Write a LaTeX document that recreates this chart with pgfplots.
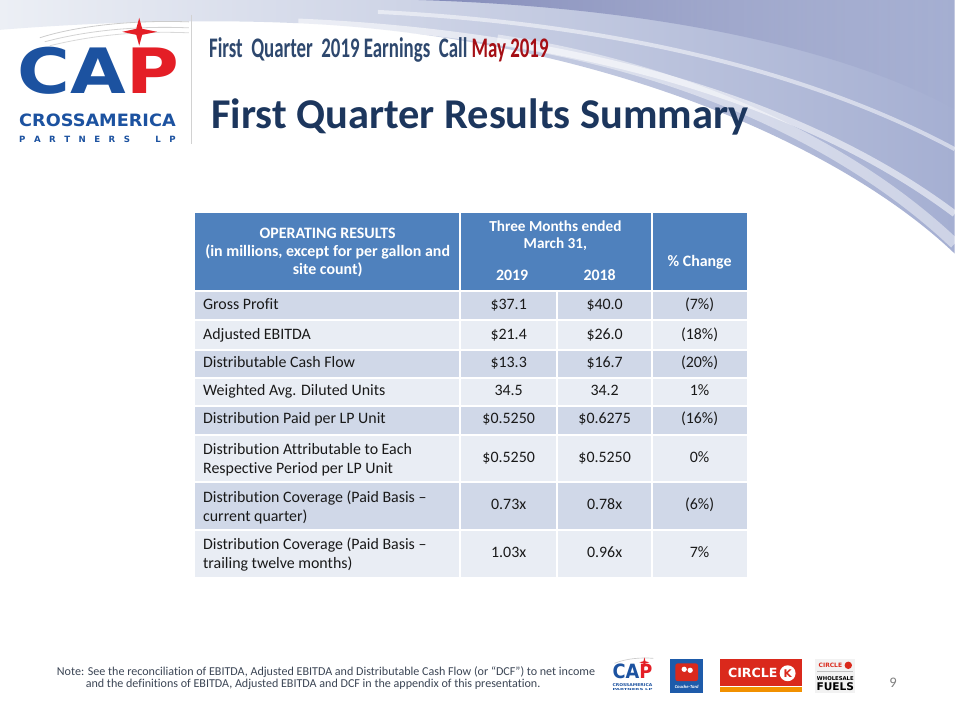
\documentclass[border=0pt]{standalone}
\usepackage{pgfplots}
\pgfplotsset{compat=1.18}
\usepackage{fontspec}
\setmainfont{Carlito}[Ligatures={TeX,NoCommon}]
\newfontfamily\logofont{DejaVu Sans}
\usetikzlibrary{fadings}
\definecolor{capblue}{RGB}{28,82,160}
\definecolor{capred}{RGB}{228,30,38}
\definecolor{titleblue}{RGB}{28,54,93}
\definecolor{subblue}{RGB}{46,72,110}
\definecolor{subred}{RGB}{165,15,21}
\definecolor{hdrblue}{RGB}{79,129,189}
\definecolor{rowdark}{RGB}{208,216,232}
\definecolor{rowlight}{RGB}{233,237,244}
\definecolor{bodytxt}{RGB}{25,25,25}
\definecolor{notetxt}{RGB}{60,70,85}
\definecolor{bgA}{RGB}{236,239,245}
\definecolor{bgB}{RGB}{165,175,210}
\definecolor{bgC}{RGB}{130,138,185}
\definecolor{ctblue}{RGB}{30,91,170}
\definecolor{ckred}{RGB}{218,41,28}
\definecolor{ckorange}{RGB}{242,145,0}
\newcommand\fs[2]{\fontsize{#1}{#2}\selectfont}
\begin{document}
\begin{tikzpicture}
\begin{axis}[hide axis, scale only axis, width=720pt, height=540pt,
  xmin=0, xmax=960, ymin=0, ymax=720, y dir=reverse, clip=false]
% background
\fill[white] (0,0) rectangle (960,720);
\shade[left color=bgA, right color=bgB] (0,0) -- (960,0) -- (960,255) .. controls (850,150) and (620,45) .. (330,25) .. controls (220,18) and (100,22) .. (0,30) -- cycle;
\fill[bgC, path fading=east] (420,0) -- (960,0) -- (960,110) .. controls (860,55) and (680,8) .. (420,0) -- cycle;
\draw[white, line width=5pt, opacity=0.55] (300,22) .. controls (600,35) and (820,110) .. (960,215);
\draw[white, line width=3pt, opacity=0.5] (380,12) .. controls (640,25) and (830,80) .. (960,150);
\draw[white, line width=8pt, opacity=0.45] (500,40) .. controls (700,70) and (860,150) .. (960,245);
\draw[gray!40, line width=0.6pt] (40,38) .. controls (80,25) and (140,20) .. (190,22);
\draw[gray!35, line width=0.6pt] (45,42) .. controls (90,30) and (140,26) .. (190,28);
\draw[gray!30, line width=0.6pt] (50,46) .. controls (95,35) and (140,31) .. (190,33);
% separator
\draw[gray!35, line width=0.8pt] (193,15) -- (193,145);
% logo
\node[inner sep=0] at (99,71.5) {\resizebox{121.5pt}{35pt}{\logofont\bfseries\color{capblue}CA\color{capred}P}};
\fill[capred] (140,18) -- (143,29) -- (158,32) -- (143,35) -- (140,46) -- (137,35) -- (123,32) -- (137,29) -- cycle;
\node[inner sep=0] at (98,121) {\resizebox{118pt}{9.5pt}{\logofont\bfseries\color{capblue}CROSSAMERICA}};
\node[inner sep=0] at (98,140) {\logofont\bfseries\fs{6.5}{7}\color{capblue}\makebox[118pt][s]{P\hfill A\hfill R\hfill T\hfill N\hfill E\hfill R\hfill S\hfill\hfill\hfill L\hfill P}};
% headings
\node[inner sep=0, anchor=base west] at (210,58) {\resizebox{256pt}{15pt}{\bfseries\color{subblue}First\ \ Quarter\ \ 2019 Earnings\ \ Call \color{subred}May 2019}};
\node[inner sep=0, anchor=base west] at (212,129) {\fs{32}{34}\bfseries\color{titleblue}First Quarter Results Summary};
% table fills
\fill[hdrblue] (196,214) rectangle (751,293);
\fill[rowdark] (196,293) rectangle (751,322);
\fill[rowlight] (196,322) rectangle (751,352);
\fill[rowdark] (196,352) rectangle (751,380);
\fill[rowlight] (196,380) rectangle (751,408);
\fill[rowdark] (196,408) rectangle (751,437);
\fill[rowlight] (196,437) rectangle (751,485);
\fill[rowdark] (196,485) rectangle (751,533);
\fill[rowlight] (196,533) rectangle (751,580);
% grid lines
\draw[white, line width=1.5pt] (196,293) -- (751,293);
\draw[white, line width=1.5pt] (196,322) -- (751,322);
\draw[white, line width=1.5pt] (196,352) -- (751,352);
\draw[white, line width=1.5pt] (196,380) -- (751,380);
\draw[white, line width=1.5pt] (196,408) -- (751,408);
\draw[white, line width=1.5pt] (196,437) -- (751,437);
\draw[white, line width=1.5pt] (196,485) -- (751,485);
\draw[white, line width=1.5pt] (196,533) -- (751,533);
\draw[white, line width=1.5pt] (463,214) -- (463,580);
\draw[white, line width=1.5pt] (656,214) -- (656,580);
\draw[white, line width=1.5pt] (560,293) -- (560,580);
% header text
\node[align=center, text=white, font=\fs{12}{13.5}\bfseries, inner sep=0] at (329.5,253.5) {OPERATING RESULTS\\(in millions, except for per gallon and\\site count)};
\node[align=center, text=white, font=\fs{11.5}{13.5}\bfseries, inner sep=0] at (558.5,237) {Three Months ended\\March 31,};
\node[text=white, font=\fs{12}{12}\bfseries, inner sep=0, anchor=mid] at (515,279) {2019};
\node[text=white, font=\fs{12}{12}\bfseries, inner sep=0, anchor=mid] at (603,279) {2018};
\node[text=white, font=\fs{12}{12}\bfseries, inner sep=0, anchor=mid] at (703.5,265) {\% Change};
% body
\begin{scope}[every node/.style={inner sep=0, text=bodytxt, font=\fs{12}{14.25}}]
\node[anchor=mid west] at (204,308) {Gross Profit};
\node[anchor=mid] at (511.5,308) {\$37.1};
\node[anchor=mid] at (608,308) {\$40.0};
\node[anchor=mid] at (703.5,308) {(7\%)};
\node[anchor=mid west] at (204,338) {Adjusted EBITDA};
\node[anchor=mid] at (511.5,338) {\$21.4};
\node[anchor=mid] at (608,338) {\$26.0};
\node[anchor=mid] at (703.5,338) {(18\%)};
\node[anchor=mid west] at (204,366) {Distributable Cash Flow};
\node[anchor=mid] at (511.5,366) {\$13.3};
\node[anchor=mid] at (608,366) {\$16.7};
\node[anchor=mid] at (703.5,366) {(20\%)};
\node[anchor=mid west] at (204,394.5) {Weighted Avg. Diluted Units};
\node[anchor=mid] at (511.5,394.5) {34.5};
\node[anchor=mid] at (608,394.5) {34.2};
\node[anchor=mid] at (703.5,394.5) {1\%};
\node[anchor=mid west] at (204,423) {Distribution Paid per LP Unit};
\node[anchor=mid] at (511.5,423) {\$0.5250};
\node[anchor=mid] at (608,423) {\$0.6275};
\node[anchor=mid] at (703.5,423) {(16\%)};
\node[anchor=west, align=left] at (204,462.5) {Distribution Attributable to Each\\Respective Period per LP Unit};
\node[anchor=mid] at (511.5,461.5) {\$0.5250};
\node[anchor=mid] at (608,461.5) {\$0.5250};
\node[anchor=mid] at (703.5,461.5) {0\%};
\node[anchor=west, align=left] at (204,510) {Distribution Coverage (Paid Basis --\\current quarter)};
\node[anchor=mid] at (511.5,509.5) {0.73x};
\node[anchor=mid] at (608,509.5) {0.78x};
\node[anchor=mid] at (703.5,509.5) {(6\%)};
\node[anchor=west, align=left] at (204,558) {Distribution Coverage (Paid Basis --\\trailing twelve months)};
\node[anchor=mid] at (511.5,557.5) {1.03x};
\node[anchor=mid] at (608,557.5) {0.96x};
\node[anchor=mid] at (703.5,557.5) {7\%};
\end{scope}
% footnote
\node[inner sep=0, anchor=base west, text=notetxt, font=\fs{9.1}{10}] at (57,679) {Note: See the reconciliation of EBITDA, Adjusted EBITDA and Distributable Cash Flow (or ``DCF'') to net income};
\node[inner sep=0, anchor=base west, text=notetxt, font=\fs{9.1}{10}] at (86,691) {and the definitions of EBITDA, Adjusted EBITDA and DCF in the appendix of this presentation.};
% bottom logos
\draw[gray!40, line width=0.5pt] (618,667) .. controls (630,662) and (645,661) .. (657,662);
\node[inner sep=0] at (636,675) {\resizebox{30pt}{11pt}{\logofont\bfseries\color{capblue}CA\color{capred}P}};
\fill[capred] (648,661) -- (649,665) -- (653,666) -- (649,667) -- (648,671) -- (647,667) -- (643,666) -- (647,665) -- cycle;
\node[inner sep=0] at (636,689) {\resizebox{30pt}{2.2pt}{\logofont\bfseries\color{capblue}CROSSAMERICA}};
\node[inner sep=0] at (636,693) {\resizebox{30pt}{1.5pt}{\logofont\bfseries\color{capblue}PARTNERS LP}};
\fill[ctblue] (674,663) rectangle (707,697);
\fill[ckred, rounded corners=2pt] (679,667) rectangle (702,685);
\fill[white] (688,673) circle [radius=2pt];
\fill[white] (694,674) circle [radius=2pt];
\node[inner sep=0, text=white, font=\fs{3.5}{4}\itshape\bfseries] at (690.5,691) {Couche-Tard};
\fill[ckred] (724,663) rectangle (806,690);
\fill[ckorange] (724,691) rectangle (806,696);
\node[inner sep=0, text=white, font=\logofont\bfseries\fs{9.5}{10}] at (757,677) {CIRCLE};
\node[circle, fill=white, inner sep=0, minimum size=12pt, text=ckred, font=\logofont\bfseries\fs{8}{8}] at (792,677) {K};
\fill[gray!10] (820,663) rectangle (860,697);
\node[inner sep=0, text=ckred, font=\logofont\bfseries\fs{4.5}{5}] at (835,669) {CIRCLE};
\fill[ckred] (853,669) circle [radius=2.8pt];
\draw[gray!50, line width=0.3pt] (822,675) -- (858,675);
\node[inner sep=0, text=black, font=\logofont\bfseries\fs{4}{5}] at (840,682) {WHOLESALE};
\node[inner sep=0, text=black, font=\logofont\bfseries\fs{8}{9}] at (840,690.5) {FUELS};
\node[inner sep=0, text=gray, font=\fs{11}{12}] at (898,687) {9};
\end{axis}
\end{tikzpicture}
\end{document}
